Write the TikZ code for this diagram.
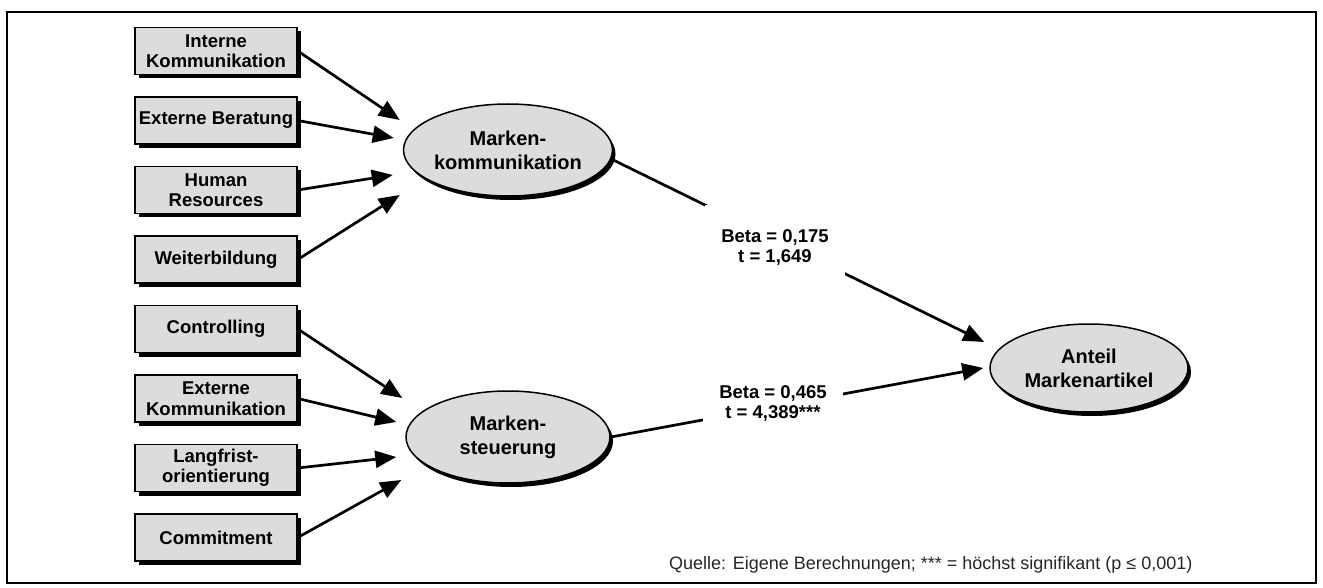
\documentclass[tikz,border=0pt]{standalone}
\usepackage{fontspec}
\setmainfont{Liberation Sans}
\usetikzlibrary{shapes, arrows.meta, positioning, shadows}
\definecolor{boxgray}{RGB}{220,220,220}

\begin{document}
\begin{tikzpicture}[
    x=1pt, y=-1pt,
    arrowstyle/.style={draw, line width=2.7pt, -{Triangle[length=21pt, width=17pt]}},
    indicator/.style={rectangle, draw, fill=boxgray, line width=1.5pt,
        minimum width=162pt, minimum height=47pt, inner sep=2pt, align=center,
        font=\fontsize{18.5}{20.5}\selectfont\bfseries,
        drop shadow={shadow xshift=4pt, shadow yshift=-4pt, fill=black, opacity=1}},
    construct/.style={ellipse, draw, fill=boxgray, line width=1.5pt,
        inner sep=0pt, align=center,
        font=\fontsize{20}{24}\selectfont\bfseries,
        drop shadow={shadow xshift=3pt, shadow yshift=-4pt, fill=black, opacity=1}},
    coef/.style={rectangle, fill=white, minimum width=140pt, minimum height=84pt,
        inner sep=0pt, align=center, font=\fontsize{18.5}{20}\selectfont\bfseries},
    node distance=21pt
]
\useasboundingbox (0,0) rectangle (1323,588);
\draw[line width=1.5pt] (7,12) rectangle (1316,583);

\node (Indicator01) [indicator] at (216,51) {Interne\\Kommunikation};
\node (Indicator02) [indicator, below=of Indicator01] {Externe Beratung};
\node (Indicator03) [indicator, below=of Indicator02] {Human\\Resources};
\node (Indicator04) [indicator, below=of Indicator03] {Weiterbildung};
\node (Indicator05) [indicator, below=of Indicator04] {Controlling};
\node (Indicator06) [indicator, below=of Indicator05] {Externe\\Kommunikation};
\node (Indicator07) [indicator, below=of Indicator06] {Langfrist-\\orientierung};
\node (Indicator08) [indicator, below=of Indicator07] {Commitment};

\node (Construct01) [construct, minimum width=204pt, minimum height=92pt] at (508,150) {Marken-\\kommunikation};
\node (Construct02) [construct, minimum width=204pt, minimum height=92pt] at (508,437) {Marken-\\steuerung};
\node (Outcome) [construct, minimum width=198pt, minimum height=88pt] at (1089,368) {Anteil\\Markenartikel};

\draw[arrowstyle] (Indicator01.east) -- ([xshift=-3pt, yshift=30pt]Construct01.west);
\draw[arrowstyle] (Indicator02.east) -- ([xshift=-9pt, yshift=12pt]Construct01.west);
\draw[arrowstyle] (Indicator03.east) -- ([xshift=-10pt, yshift=-25pt]Construct01.west);
\draw[arrowstyle] (Indicator04.east) -- ([xshift=-3pt, yshift=-45pt]Construct01.west);
\draw[arrowstyle] (Indicator05.east) -- ([xshift=-3pt, yshift=39pt]Construct02.west);
\draw[arrowstyle] (Indicator06.east) -- ([xshift=-9pt, yshift=15pt]Construct02.west);
\draw[arrowstyle] (Indicator07.east) -- ([xshift=-9pt, yshift=-20pt]Construct02.west);
\draw[arrowstyle] (Indicator08.east) -- ([xshift=-4pt, yshift=-43pt]Construct02.west);

\draw[arrowstyle] (Construct01.-5) -- ([xshift=-5pt, yshift=26pt]Outcome.west);
\draw[arrowstyle] (Construct02.east) -- ([xshift=-6pt]Outcome.west);

\node (Coef01) [coef] at (775,247) {Beta = 0,175\\t = 1,649};
\node (Coef02) [coef] at (773,403) {Beta = 0,465\\t = 4,389***};

\node (Source) [anchor=east, text=black!85, font=\fontsize{18}{20}\selectfont] at (1196,565)
    {Quelle: Eigene Berechnungen; *** = höchst signifikant (p ≤ 0,001)};
\end{tikzpicture}
\end{document}
